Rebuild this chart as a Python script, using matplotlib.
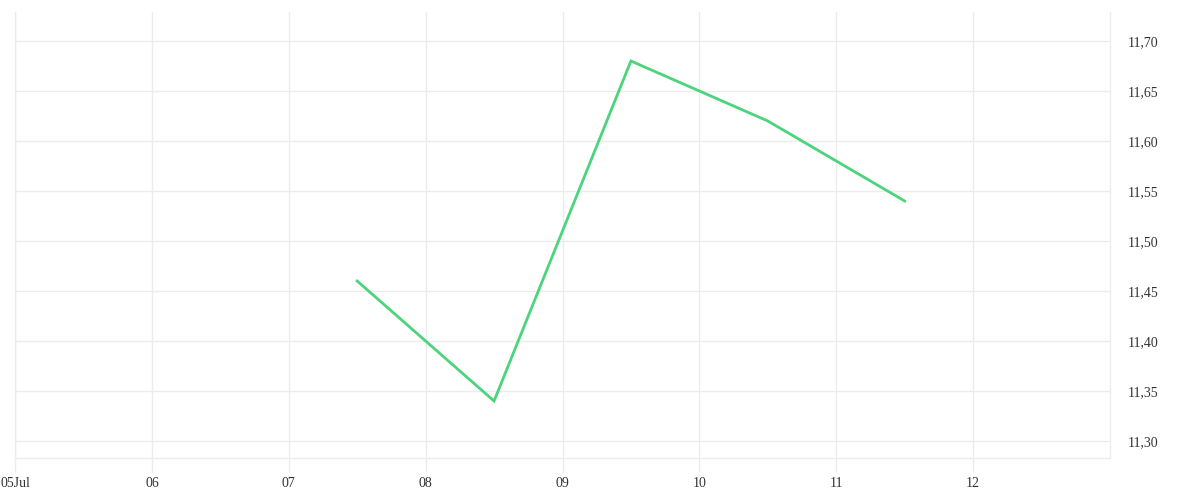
import datetime as dt

import matplotlib
matplotlib.use("Agg")
import matplotlib.dates as mdates
import matplotlib.pyplot as plt
from matplotlib.ticker import FuncFormatter

# data (one point per day, centred at noon)
days = [7, 8, 9, 10, 11]
values = [11.46, 11.34, 11.68, 11.62, 11.54]

tick_days = [5, 6, 7, 8, 9, 10, 11, 12]
tick_labels = ["05Jul", "06", "07", "08", "09", "10", "11", "12"]
y_ticks = [11.30, 11.35, 11.40, 11.45, 11.50, 11.55, 11.60, 11.65, 11.70]

GRID = "#ececec"
TEXT = "#333333"
LINE = "#4cd47c"

plt.rcParams["font.family"] = ["Liberation Serif", "DejaVu Serif"]

x = [dt.datetime(2023, 7, d, 12) for d in days]
xt = [dt.datetime(2023, 7, d) for d in tick_days]

fig = plt.figure(figsize=(12, 5), dpi=100)
ax = fig.add_axes([15 / 1200, 42 / 500, 1095 / 1200, 446 / 500])

ax.plot(x, values, color=LINE, lw=2.0, solid_joinstyle="miter")

ax.set_xlim(dt.datetime(2023, 7, 5), dt.datetime(2023, 7, 13))
ax.set_ylim(11.283, 11.729)

ax.set_xticks(mdates.date2num(xt))
ax.set_xticklabels(tick_labels)
ax.set_yticks(y_ticks)
ax.yaxis.set_major_formatter(FuncFormatter(lambda v, _: f"{v:.2f}".replace(".", ",")))

ax.yaxis.tick_right()
ax.tick_params(axis="x", length=10, color=GRID, width=1, pad=4,
               labelsize=10, labelcolor=TEXT)
ax.tick_params(axis="y", length=0, pad=13, labelsize=10, labelcolor=TEXT)

ax.grid(True, color=GRID, lw=1)
ax.set_axisbelow(True)

for side in ("left", "right", "bottom"):
    ax.spines[side].set_color(GRID)
    ax.spines[side].set_linewidth(1)
ax.spines["top"].set_visible(False)

fig.savefig("out.png", dpi=100)
